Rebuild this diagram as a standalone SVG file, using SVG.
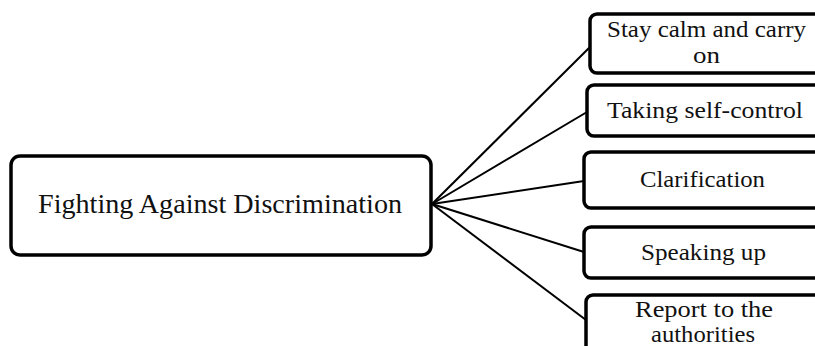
<svg xmlns="http://www.w3.org/2000/svg" width="815" height="346" viewBox="0 0 815 346">
<style>
.box{fill:#fff;stroke:#000;stroke-width:3.5}
.t{font-family:"Liberation Serif","Times New Roman",serif;fill:#111;text-anchor:middle}
.s{font-size:22.5px}
.c{stroke:#000;stroke-width:2;fill:none}
</style>
<rect width="815" height="346" fill="#fff"/>
<g id="connectors">
<line class="c" x1="432" y1="204" x2="590" y2="47"/>
<line class="c" x1="432" y1="204" x2="587" y2="112"/>
<line class="c" x1="432" y1="204" x2="584" y2="181"/>
<line class="c" x1="432" y1="204" x2="584" y2="252"/>
<line class="c" x1="432" y1="204" x2="586" y2="320"/>
</g>
<g id="root">
<rect class="box" x="11" y="156" width="420" height="99" rx="9"/>
<text class="t" x="220" y="213" font-size="27" textLength="364" lengthAdjust="spacingAndGlyphs">Fighting Against Discrimination</text>
</g>
<g id="n1">
<rect class="box" x="590" y="14" width="240" height="59" rx="7"/>
<text class="t s" x="706.5" y="37" textLength="199" lengthAdjust="spacingAndGlyphs">Stay calm and carry</text>
<text class="t s" x="706.5" y="63" textLength="27" lengthAdjust="spacingAndGlyphs">on</text>
</g>
<g id="n2">
<rect class="box" x="587" y="85" width="240" height="51" rx="7"/>
<text class="t s" x="705" y="118" textLength="196" lengthAdjust="spacingAndGlyphs">Taking self-control</text>
</g>
<g id="n3">
<rect class="box" x="584" y="152" width="240" height="56" rx="7"/>
<text class="t s" x="702.5" y="187" textLength="125" lengthAdjust="spacingAndGlyphs">Clarification</text>
</g>
<g id="n4">
<rect class="box" x="584" y="227" width="240" height="51" rx="7"/>
<text class="t s" x="703.5" y="260" textLength="125" lengthAdjust="spacingAndGlyphs">Speaking up</text>
</g>
<g id="n5">
<rect class="box" x="586" y="295" width="240" height="70" rx="7"/>
<text class="t s" x="704" y="317" textLength="138" lengthAdjust="spacingAndGlyphs">Report to the</text>
<text class="t s" x="703" y="342" textLength="104" lengthAdjust="spacingAndGlyphs">authorities</text>
</g>
</svg>
